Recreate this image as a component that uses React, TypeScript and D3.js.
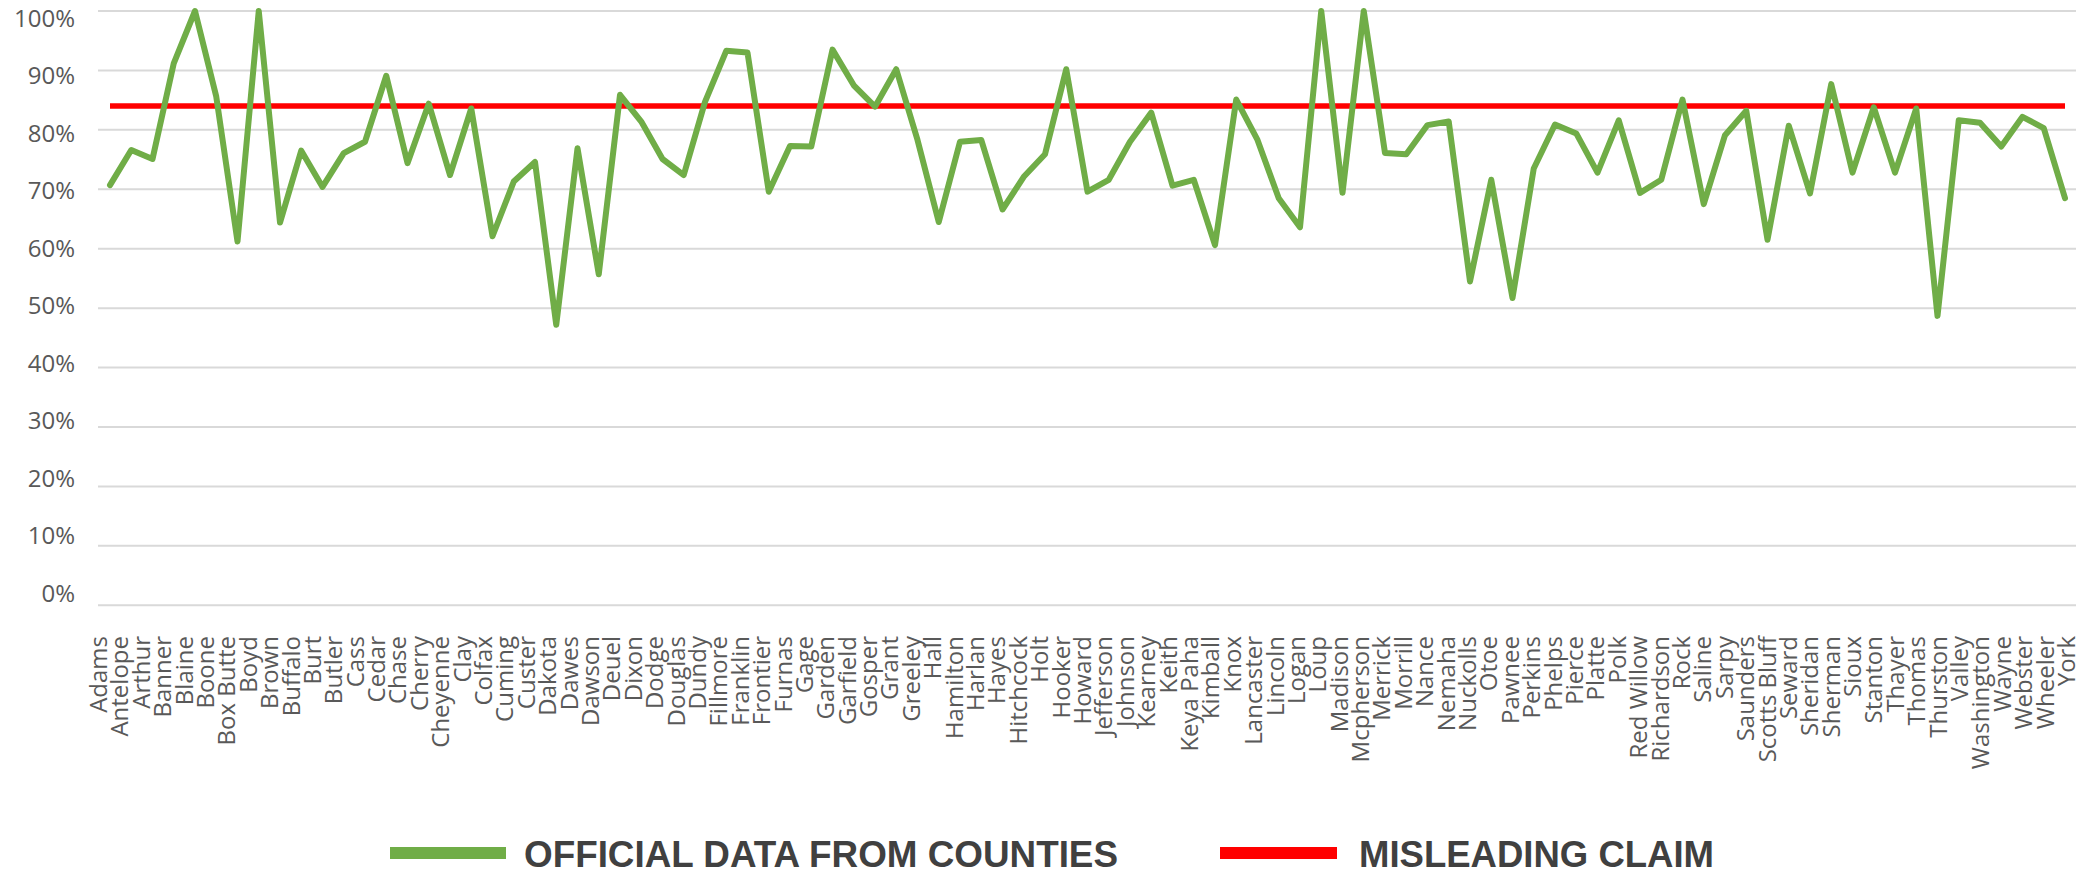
import React from "react";
import * as d3 from "d3";

const counties: string[] = [
  "Adams", "Antelope", "Arthur", "Banner", "Blaine", "Boone", "Box Butte", "Boyd", "Brown", "Buffalo",
  "Burt", "Butler", "Cass", "Cedar", "Chase", "Cherry", "Cheyenne", "Clay", "Colfax", "Cuming",
  "Custer", "Dakota", "Dawes", "Dawson", "Deuel", "Dixon", "Dodge", "Douglas", "Dundy", "Fillmore",
  "Franklin", "Frontier", "Furnas", "Gage", "Garden", "Garfield", "Gosper", "Grant", "Greeley", "Hall",
  "Hamilton", "Harlan", "Hayes", "Hitchcock", "Holt", "Hooker", "Howard", "Jefferson", "Johnson", "Kearney",
  "Keith", "Keya Paha", "Kimball", "Knox", "Lancaster", "Lincoln", "Logan", "Loup", "Madison", "Mcpherson",
  "Merrick", "Morrill", "Nance", "Nemaha", "Nuckolls", "Otoe", "Pawnee", "Perkins", "Phelps", "Pierce",
  "Platte", "Polk", "Red Willow", "Richardson", "Rock", "Saline", "Sarpy", "Saunders", "Scotts Bluff", "Seward",
  "Sheridan", "Sherman", "Sioux", "Stanton", "Thayer", "Thomas", "Thurston", "Valley", "Washington", "Wayne",
  "Webster", "Wheeler", "York",
];

const officialValues: number[] = [
  0.707, 0.766, 0.751, 0.912, 1.0, 0.856, 0.612, 1.0, 0.644, 0.765,
  0.704, 0.761, 0.78, 0.891, 0.744, 0.844, 0.724, 0.836, 0.621, 0.713,
  0.746, 0.472, 0.769, 0.557, 0.859, 0.814, 0.751, 0.724, 0.847, 0.933,
  0.93, 0.696, 0.773, 0.772, 0.935, 0.875, 0.839, 0.902, 0.783, 0.645,
  0.78, 0.783, 0.666, 0.721, 0.759, 0.902, 0.696, 0.716, 0.78, 0.829,
  0.706, 0.716, 0.606, 0.851, 0.783, 0.685, 0.636, 1.0, 0.694, 1.0,
  0.761, 0.759, 0.808, 0.814, 0.545, 0.716, 0.517, 0.735, 0.809, 0.794,
  0.728, 0.816, 0.694, 0.716, 0.851, 0.675, 0.791, 0.832, 0.615, 0.807,
  0.693, 0.877, 0.728, 0.838, 0.728, 0.836, 0.487, 0.816, 0.812, 0.772,
  0.822, 0.803, 0.685,
];

const claimValue = 0.84;
const yTicks: number[] = [0, 0.1, 0.2, 0.3, 0.4, 0.5, 0.6, 0.7, 0.8, 0.9, 1.0];
const seriesNames: string[] = ["OFFICIAL DATA FROM COUNTIES", "MISLEADING CLAIM"];
const seriesColors: string[] = ["#70AD47", "#FF0000"];

const W = 2087;
const H = 872;

export default function App() {
  const y = d3.scaleLinear().domain([0, 1]).range([605.3, 11]);
  const yLabel = d3.scaleLinear().domain([0, 1]).range([593.3, 18.3]);
  const xPoint = d3.scalePoint<string>().domain(counties).range([110, 2065]);
  const xLabel = d3.scalePoint<string>().domain(counties).range([107, 2075]);
  const fmt = d3.format(".0%");

  const line = d3
    .line<number>()
    .x((_, i) => xPoint(counties[i]) as number)
    .y((d) => y(d));

  const claimLine = d3
    .line<string>()
    .x((c) => xPoint(c) as number)
    .y(() => y(claimValue));

  const gridX0 = 98;
  const gridX1 = 2076;

  return (
    <svg
      width={W}
      height={H}
      style={{ position: "absolute", left: 0, top: 0, display: "block", background: "#fff" }}
    >
      <rect x={0} y={0} width={W} height={H} fill="#fff" />
      {yTicks.map((t) => (
        <line key={"g" + t} x1={gridX0} x2={gridX1} y1={y(t)} y2={y(t)} stroke="#D9D9D9" strokeWidth={2} />
      ))}
      {yTicks.map((t) => (
        <text
          key={"yl" + t}
          x={75}
          y={yLabel(t)}
          dy="0.35em"
          textAnchor="end"
          fontFamily="'Open Sans', sans-serif"
          fontSize={24}
          fill="#595959"
        >
          {fmt(t)}
        </text>
      ))}
      {counties.map((c) => (
        <text
          key={"xl" + c}
          transform={`translate(${xLabel(c)},636) rotate(-90)`}
          textAnchor="end"
          fontFamily="'Open Sans', sans-serif"
          fontSize={24}
          fill="#595959"
        >
          {c}
        </text>
      ))}
      <path d={claimLine([counties[0], counties[counties.length - 1]]) || ""} stroke={seriesColors[1]} strokeWidth={5.5} fill="none" />
      <path
        d={line(officialValues) || ""}
        stroke={seriesColors[0]}
        strokeWidth={6}
        fill="none"
        strokeLinejoin="round"
        strokeLinecap="round"
      />
      <g>
        <rect x={390} y={847} width={116} height={12} fill={seriesColors[0]} />
        <text
          x={524}
          y={867}
          textLength={594}
          lengthAdjust="spacingAndGlyphs"
          fontFamily="'Liberation Sans Narrow', 'Liberation Sans', Arial, sans-serif"
          fontWeight="bold"
          fontSize={37.5}
          fill="#404040"
        >
          {seriesNames[0]}
        </text>
        <rect x={1220} y={847} width={117} height={12} fill={seriesColors[1]} />
        <text
          x={1359}
          y={867}
          textLength={355}
          lengthAdjust="spacingAndGlyphs"
          fontFamily="'Liberation Sans Narrow', 'Liberation Sans', Arial, sans-serif"
          fontWeight="bold"
          fontSize={37.5}
          fill="#404040"
        >
          {seriesNames[1]}
        </text>
      </g>
    </svg>
  );
}
